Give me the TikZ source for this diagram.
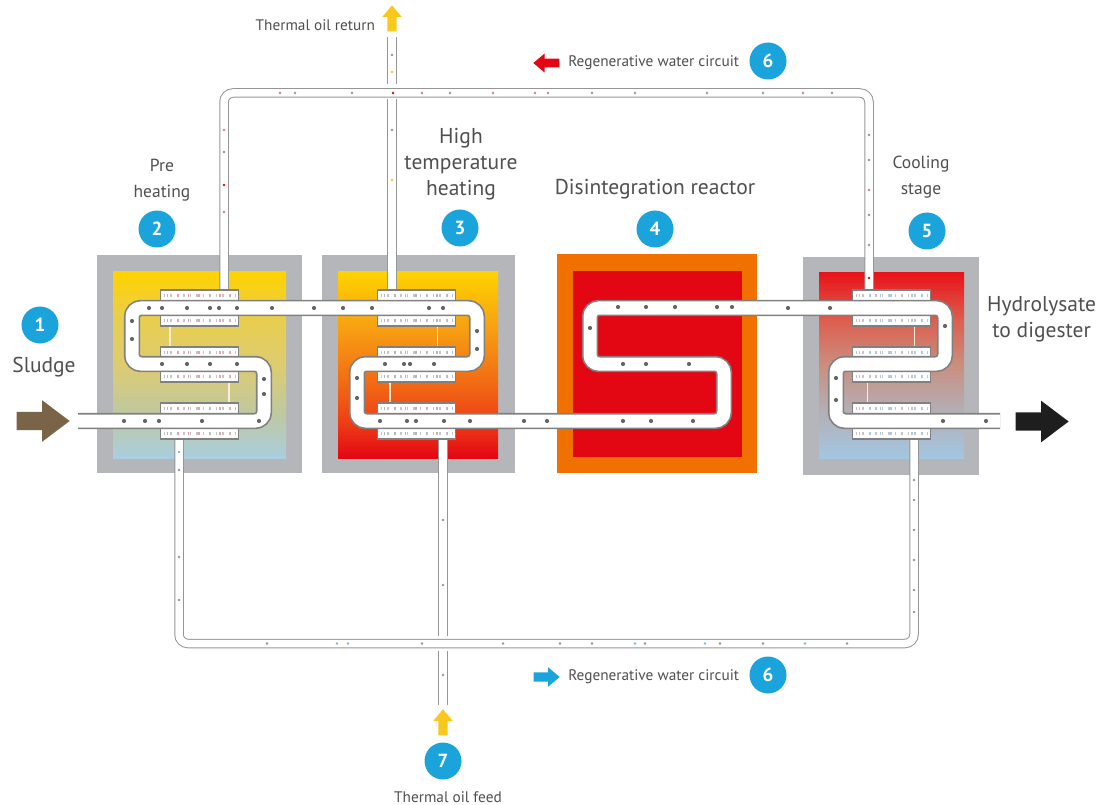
\documentclass[tikz,border=0pt]{standalone}
\usepackage{fontspec}
\setmainfont{PT Sans}
\usetikzlibrary{positioning,shapes.arrows}
\definecolor{cSky}{HTML}{1BA3DC}
\definecolor{cInk}{HTML}{4F4F4F}
\definecolor{cWall}{HTML}{B5B6B9}
\definecolor{cPipe}{HTML}{808080}
\definecolor{cThin}{HTML}{969696}
\definecolor{cDot}{HTML}{666666}
\definecolor{cRed}{HTML}{E30613}
\definecolor{cOrange}{HTML}{F07000}
\definecolor{cOil}{HTML}{F8C81C}
\definecolor{cBrown}{HTML}{7A6447}
\definecolor{cBlack}{HTML}{1E1E1E}
\definecolor{cPink}{HTML}{D97A86}
\definecolor{cIce}{HTML}{7FB7D8}
\definecolor{cSun}{HTML}{FFD200}
\definecolor{cPreA}{HTML}{A9CEDF}
\definecolor{cPreB}{HTML}{BFC8A0}
\definecolor{cPreC}{HTML}{DDCC70}
\definecolor{cPreD}{HTML}{E8CE50}
\definecolor{cHighA}{HTML}{EE4016}
\definecolor{cHighB}{HTML}{F26A14}
\definecolor{cHighC}{HTML}{F7A012}
\definecolor{cCoolA}{HTML}{A3C6E2}
\definecolor{cCoolB}{HTML}{B4AEB4}
\definecolor{cCoolC}{HTML}{C98F80}
\definecolor{cCoolD}{HTML}{DC6050}
\definecolor{cCoolE}{HTML}{E8141A}
\pgfdeclareverticalshading{heatPre}{100bp}{color(0bp)=(cPreA); color(25bp)=(cPreA);
  color(37bp)=(cPreB); color(50bp)=(cPreC); color(62bp)=(cPreD); color(75bp)=(cSun); color(100bp)=(cSun)}
\pgfdeclareverticalshading{heatHigh}{100bp}{color(0bp)=(cRed); color(25bp)=(cRed);
  color(35bp)=(cHighA); color(45bp)=(cHighB); color(60bp)=(cHighC); color(75bp)=(cSun); color(100bp)=(cSun)}
\pgfdeclareverticalshading{heatCool}{100bp}{color(0bp)=(cCoolA); color(25bp)=(cCoolA);
  color(38bp)=(cCoolB); color(50bp)=(cCoolC); color(62bp)=(cCoolD); color(75bp)=(cCoolE); color(100bp)=(cCoolE)}
\tikzset{
  wall/.style   ={fill=cWall,inner sep=0pt,outer sep=0pt},
  core/.style   ={shade,inner sep=0pt,outer sep=0pt},
  hxbar/.style  ={draw=cPipe,line width=1.1pt,fill=white,inner sep=0pt,
                  minimum width=78pt,minimum height=11pt},
  hxlink/.style ={line width=1.5pt,white!85!orange},
  mainpipe/.style={draw=cPipe,line width=1.7pt,double=white,double distance=13pt,rounded corners=9pt},
  thinpipe/.style={draw=cThin,line width=1pt,double=white,double distance=7.5pt,rounded corners=9pt},
  badge/.style  ={circle,fill=cSky,text=white,inner sep=0pt,minimum size=37pt,
                  font=\fontsize{19}{19}\selectfont\bfseries},
  lbl/.style    ={text=cInk,align=center,inner sep=0pt,font=\fontsize{21.5}{26}\selectfont},
  midlbl/.style ={lbl,font=\fontsize{17.5}{26}\selectfont},
  smalllbl/.style={text=cInk,inner sep=0pt,font=\fontsize{15.3}{17}\selectfont},
  bigarrow/.style={single arrow,inner sep=9pt,single arrow head extend=11.5pt,
                  single arrow tip angle=74,minimum height=53pt,minimum width=41pt,anchor=tip},
  tinyarrow/.style={single arrow,inner sep=4.5pt,single arrow head extend=5pt,
                  single arrow tip angle=80,minimum height=26pt,minimum width=19pt,anchor=tip},
}
\begin{document}
\begin{tikzpicture}[x=1pt,y=-1pt]
\useasboundingbox (0,0) rectangle (1101,805);

\node[wall,minimum width=205pt,minimum height=218pt] (wallPre) at (199.5,364) {};
\node[core,shading=heatPre,minimum width=173pt,minimum height=186pt] (corePre) at (199.5,365) {};
\node[wall,minimum width=193pt,minimum height=218pt] (wallHigh) at (418.5,364) {};
\node[core,shading=heatHigh,minimum width=160pt,minimum height=186pt] (coreHigh) at (418,365) {};
\node[wall,fill=cOrange,minimum width=200pt,minimum height=219pt] (wallReact) at (657,363.5) {};
\node[wall,fill=cRed,minimum width=169pt,minimum height=186pt] (coreReact) at (657.5,364) {};
\node[wall,minimum width=176pt,minimum height=218pt] (wallCool) at (891,366) {};
\node[core,shading=heatCool,minimum width=145pt,minimum height=185pt] (coreCool) at (891.5,365.5) {};

\coordinate (oilTop) at (392,37);
\coordinate (oilTopA) at (392,84);
\coordinate (oilTopB) at (392,99);
\coordinate (oilTopC) at (392,292);
\coordinate (oilLow) at (443,705);
\coordinate (oilLowA) at (443,651);
\coordinate (oilLowB) at (443,636);
\coordinate (oilLowC) at (443,437);
\draw[thinpipe] (oilTop) -- (oilTopA);
\draw[thinpipe] (oilTopB) -- (oilTopC);
\draw[thinpipe] (oilLow) -- (oilLowA);
\draw[thinpipe] (oilLowB) -- (oilLowC);
\draw[thinpipe] (224,292) -- (224,93) -- (869,93) -- (869,292);
\draw[thinpipe] (179,437) -- (179,643.5) -- (914,643.5) -- (914,437);

\foreach \bx/\by/\bc in {280/93/cPink,295/93/cThin,352/93/cThin,393/93/cRed,422/93/cPink,450/93/cThin,
    493/93/cPink,535/93/cPink,548/93/cPink,592/93/cThin,635/93/cThin,707/93/cThin,763/93/cThin,
    803/93/cPink,832/93/cThin,224/130/cPink,224/152/cThin,224/185/cRed,224/212/cPink,
    869/135/cThin,869/160/cThin,869/190/cPink,869/215/cThin,869/245/cThin,869/278/cRed,
    267/643.5/cThin,337/643.5/cIce,348/643.5/cIce,422/643.5/cThin,503/643.5/cThin,560/643.5/cThin,
    592/643.5/cThin,635/643.5/cIce,645/643.5/cThin,705/643.5/cIce,720/643.5/cThin,763/643.5/cThin,
    805/643.5/cIce,847/643.5/cThin,179/452/cIce,179/470/cThin,179/557/cThin,179/600/cThin,
    914/480/cThin,914/500/cThin,914/530/cThin,914/560/cThin,914/590/cThin,914/612/cThin,
    392/55/cThin,392/72/cOil,392/130/cThin,392/180/cOil,443/520/cThin,443/585/cThin,443/675/cThin}
  \fill[\bc] (\bx,\by) circle (1.4pt);

\foreach \nm/\cx in {pre/199.5,high/416.5,cool/891.5}
  \foreach \rw/\cy in {a/295.5,b/320.5,c/352.5,d/376.5,e/408.5,f/433.5}
    \node[hxbar] (\nm\rw) at (\cx,\cy) {};
\foreach \nm/\cc in {pre/cPink,high/cThin,cool/cIce}
  \foreach \rw in {a,b,c,d,e,f} {
    \draw[cThin!55,line width=3.5pt,dash pattern=on 1.5pt off 5pt] ([xshift=-36pt]\nm\rw.center) -- ([xshift=36pt]\nm\rw.center);
    \draw[\cc!70,line width=3.5pt,dash pattern=on 1.5pt off 9pt] ([xshift=-33pt]\nm\rw.center) -- ([xshift=36pt]\nm\rw.center);
  }
\draw[hxlink] ([xshift=-29.5pt]preb.south) -- ([xshift=-29.5pt]prec.north);
\draw[hxlink] ([xshift=29.5pt]pred.south) -- ([xshift=29.5pt]pree.north);
\draw[hxlink] ([xshift=21pt]highb.south) -- ([xshift=21pt]highc.north);
\draw[hxlink] ([xshift=-26.5pt]highd.south) -- ([xshift=-26.5pt]highe.north);
\draw[hxlink] ([xshift=23pt]coolb.south) -- ([xshift=23pt]coolc.north);
\draw[hxlink] ([xshift=-24pt]coold.south) -- ([xshift=-24pt]coole.north);

\draw[mainpipe] (78,421) -- (264,421) -- (264,364) -- (132,364) -- (132,308) -- (477,308)
  -- (477,364) -- (357,364) -- (357,421) -- (724,421) -- (724,364) -- (590,364) -- (590,308)
  -- (945,308) -- (945,364) -- (836,364) -- (836,421) -- (1000,421);

\foreach \dx/\dy in {149/308,162/308,187/308,210/308,219/308,237/308,272/308,314/308,343/308,372/308,
    429/308,443/308,132/321,132/339,162/364,187/364,210/364,237/364,264/379,264/394,124/421,145/421,
    159/421,202/421,259/421,477/331,477/349,385/364,404/364,410/364,434/364,357/378,357/398,380/421,
    407/421,416/421,444/421,470/421,524/421,547/421,623/421,651/421,693/421,623/364,646/364,689/364,
    590/328,618/307,646/307,675/307,717/307,732/307,788/308,830/308,945/326,836/378,836/400,943/421,986/421}
  \fill[cDot] (\dx,\dy) circle (2.1pt);

\node[bigarrow,fill=cBrown] (inArrow) at (70,421) {};
\node[bigarrow,fill=cBlack] (outArrow) at (1069,421.5) {};
\node[tinyarrow,fill=cOil,shape border rotate=90] (oilUp) at (392,5) {};
\node[tinyarrow,fill=cOil,shape border rotate=90] (oilIn) at (443,709) {};
\node[tinyarrow,fill=cRed,shape border rotate=180,inner sep=4pt] (redArrow) at (533,63) {};
\node[tinyarrow,fill=cSky] (blueArrow) at (560,677) {};

\node[badge] (b1) at (40,325) {1};
\node[badge] (b2) at (157,229) {2};
\node[badge] (b3) at (460,228) {3};
\node[badge] (b4) at (655,229) {4};
\node[badge] (b5) at (927,231) {5};
\node[badge] (b6a) at (768,61) {6};
\node[badge] (b6b) at (768,675) {6};
\node[badge] (b7) at (443,761) {7};

\node[lbl,below=13pt of b1,xshift=4pt] (tSludge) {Sludge};
\node[midlbl,above=9pt of b2,xshift=5pt] (tPre) {Pre\\heating};
\node[lbl,above=9pt of b3,xshift=1pt] (tHigh) {High\\temperature\\heating};
\node[lbl,above=11pt of b4] (tReact) {Disintegration reactor};
\node[midlbl,above=14pt of b5,xshift=-6pt] (tCool) {Cooling\\stage};
\node[lbl,anchor=north west] (tHydro) at (987,296) {Hydrolysate\\to digester};
\node[smalllbl,left=10pt of b6a,yshift=-2pt] (tRegenA) {Regenerative water circuit};
\node[smalllbl,left=10pt of b6b,yshift=-2pt] (tRegenB) {Regenerative water circuit};
\node[smalllbl,below=12pt of b7,xshift=5pt] (tFeed) {Thermal oil feed};
\node[smalllbl,left=12pt of oilUp.west,yshift=-4pt] (tReturn) {Thermal oil return};
\end{tikzpicture}
\end{document}
